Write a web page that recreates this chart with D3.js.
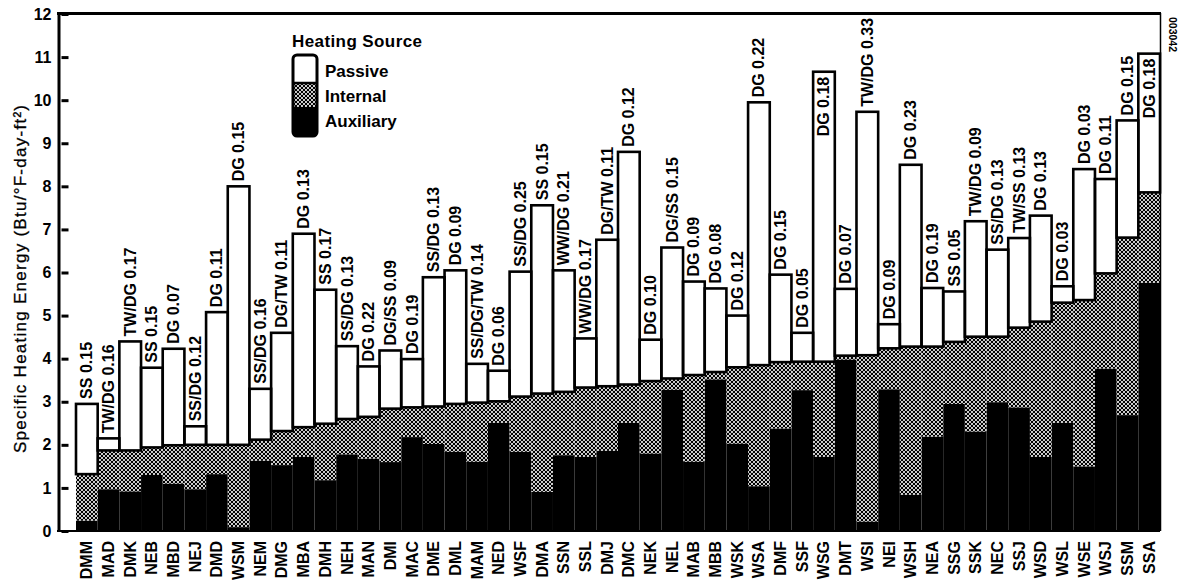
<!DOCTYPE html>
<html>
<head>
<meta charset="utf-8">
<script src="https://cdn.jsdelivr.net/npm/d3@7"></script>
<style>
  body { margin: 0; background: #fff; }
  svg { display: block; font-family: "Liberation Sans", Arial, Helvetica, sans-serif; }
</style>
</head>
<body>
<svg id="chart" width="1178" height="582"></svg>
<script>
// Building codes along the x axis
const buildings = ["DMM","MAD","DMK","NEB","MBD","NEJ","DMD","WSM","NEM","DMG",
  "MBA","DMH","NEH","MAN","DMI","MAC","DME","DML","MAM","NED",
  "WSF","DMA","SSN","SSL","DMJ","DMC","NEK","NEL","MAB","MBB",
  "WSK","WSA","DMF","SSF","WSG","DMT","WSI","NEI","WSH","NEA",
  "SSG","SSK","NEC","SSJ","WSD","WSL","WSE","WSJ","SSM","SSA"];

// Specific heating energy by source (Btu/°F-day-ft²)
const auxiliary = [0.24,0.97,0.92,1.30,1.10,0.97,1.32,0.09,1.63,1.53,
  1.72,1.18,1.78,1.68,1.60,2.18,2.02,1.84,1.61,2.51,
  1.84,0.91,1.76,1.72,1.86,2.51,1.80,3.28,1.61,3.52,
  2.03,1.04,2.38,3.27,1.72,3.98,0.22,3.29,0.84,2.19,
  2.95,2.31,2.99,2.87,1.72,2.51,1.50,3.77,2.69,5.76];
const internal = [1.08,0.90,0.95,0.64,0.89,1.03,0.68,1.91,0.49,0.79,
  0.69,1.31,0.82,0.97,1.24,0.69,0.87,1.11,1.37,0.50,
  1.28,2.28,1.47,1.61,1.50,0.89,1.68,0.26,2.01,0.17,
  1.77,2.81,1.54,0.66,2.21,0.09,3.86,0.95,3.44,2.09,
  1.44,2.20,1.52,1.85,3.14,2.79,3.86,2.21,4.12,2.10];
const passive = [1.63,0.28,2.53,1.85,2.24,0.43,3.08,6.00,1.18,2.28,
  4.49,3.11,1.69,1.17,1.35,1.12,3.00,3.10,0.90,0.71,
  2.90,4.37,2.82,1.14,3.40,5.40,0.96,3.04,2.17,1.94,
  1.20,6.10,2.03,0.67,6.73,1.55,5.65,0.56,4.22,1.36,
  1.17,2.68,2.02,2.08,2.46,0.38,3.04,2.19,2.72,3.22];

// Passive system type and solar aperture ratio written above each bar
const annotations = ["SS 0.15","TW/DG 0.16","TW/DG 0.17","SS 0.15","DG 0.07","SS/DG 0.12","DG 0.11","DG 0.15","SS/DG 0.16","DG/TW 0.11",
  "DG 0.13","SS 0.17","SS/DG 0.13","DG 0.22","DG/SS 0.09","DG 0.19","SS/DG 0.13","DG 0.09","SS/DG/TW 0.14","DG 0.06",
  "SS/DG 0.25","SS 0.15","WW/DG 0.21","WW/DG 0.17","DG/TW 0.11","DG 0.12","DG 0.10","DG/SS 0.15","DG 0.09","DG 0.08",
  "DG 0.12","DG 0.22","DG 0.15","DG 0.05","DG 0.18","DG 0.07","TW/DG 0.33","DG 0.09","DG 0.23","DG 0.19",
  "SS 0.05","TW/DG 0.09","SS/DG 0.13","TW/SS 0.13","DG 0.13","DG 0.03","DG 0.03","DG 0.11","DG 0.15","DG 0.18"];

const yTicks = [0,1,2,3,4,5,6,7,8,9,10,11,12];
const seriesNames = ["Auxiliary","Internal","Passive"];

const svg = d3.select("#chart");
const x = d3.scaleBand().domain(buildings).range([76, 1160]).paddingInner(0).paddingOuter(0);
const y = d3.scaleLinear().domain([0, 12]).range([531, 14]);

// Stippled fill for internal gains
const defs = svg.append("defs");
const pat = defs.append("pattern").attr("id", "dots")
  .attr("width", 4).attr("height", 4).attr("patternUnits", "userSpaceOnUse");
pat.append("rect").attr("width", 4).attr("height", 4).attr("fill", "#000");
[[2,2],[0,0],[4,0],[0,4],[4,4]].forEach(([cx, cy]) =>
  pat.append("circle").attr("cx", cx).attr("cy", cy).attr("r", 1.05).attr("fill", "#fff"));

const fills = { Auxiliary: "#000", Internal: "url(#dots)", Passive: "#fff" };

const rows = buildings.map((b, i) => ({
  building: b, Auxiliary: auxiliary[i], Internal: internal[i], Passive: passive[i]
}));
const stacked = d3.stack().keys(seriesNames)(rows);

// Stacked segments
svg.append("g").selectAll("g").data(stacked).join("g")
  .attr("fill", d => fills[d.key])
  .selectAll("rect").data(d => d).join("rect")
  .attr("x", d => x(d.data.building))
  .attr("width", x.bandwidth())
  .attr("y", d => y(d[1]))
  .attr("height", d => y(d[0]) - y(d[1]));

// Heavy outline round the passive portion of every bar
const tops = stacked[2];
svg.append("g").attr("fill", "none").attr("stroke", "#000").attr("stroke-width", 2.6)
  .selectAll("rect").data(tops).join("rect")
  .attr("x", d => x(d.data.building))
  .attr("width", x.bandwidth())
  .attr("y", d => y(d[1]))
  .attr("height", d => y(d[0]) - y(d[1]));

// Frame: top rule, right edge, baseline
svg.append("line").attr("x1", 57).attr("x2", 1161).attr("y1", 13.5).attr("y2", 13.5)
  .attr("stroke", "#000").attr("stroke-width", 3);
svg.append("line").attr("x1", 1160.5).attr("x2", 1160.5).attr("y1", 13).attr("y2", 531)
  .attr("stroke", "#000").attr("stroke-width", 1.5);
svg.append("line").attr("x1", 57).attr("x2", 1160).attr("y1", y(0)).attr("y2", y(0))
  .attr("stroke", "#000").attr("stroke-width", 2);

// Y axis with inward ticks
const yAxis = svg.append("g").attr("transform", "translate(58.5,0)")
  .call(d3.axisLeft(y).tickValues(yTicks).tickSizeInner(-10).tickSizeOuter(0).tickPadding(7));
yAxis.select(".domain").attr("stroke", "#000").attr("stroke-width", 3);
yAxis.selectAll(".tick line").attr("x1", 3).attr("x2", 10).attr("stroke", "#000").attr("stroke-width", 3);
yAxis.selectAll(".tick text").attr("fill", "#000")
  .style("font-family", "'Liberation Sans', Arial, sans-serif")
  .style("font-size", "16px").style("font-weight", "bold");

svg.append("text")
  .attr("transform", "translate(20,279) rotate(-90)")
  .attr("text-anchor", "middle").attr("dominant-baseline", "central")
  .attr("textLength", 348).attr("lengthAdjust", "spacing")
  .style("font-size", "17px")
  .style("stroke", "#000").style("stroke-width", 0.3)
  .text("Specific Heating Energy (Btu/°F-day-ft²)");

// Building codes
svg.append("g").selectAll("text").data(buildings).join("text")
  .attr("transform", b => `translate(${x(b) + x.bandwidth() / 2},541) rotate(-90)`)
  .attr("text-anchor", "end").attr("dominant-baseline", "central")
  .style("font-size", "16px").style("font-weight", "bold")
  .text(b => b);

// System annotations; placed inside the bar when there is no room above it
const ann = svg.append("g").selectAll("text").data(tops).join("text")
  .attr("dominant-baseline", "central")
  .style("font-size", "16px").style("font-weight", "bold")
  .text((d, i) => annotations[i]);
ann.each(function(d) {
  const len = this.getComputedTextLength();
  const cx = x(d.data.building) + x.bandwidth() / 2;
  const top = y(d[1]);
  const inside = top - 5 - len < 15;
  d3.select(this)
    .attr("text-anchor", inside ? "end" : "start")
    .attr("transform", `translate(${cx},${inside ? top + 5 : top - 5}) rotate(-90)`);
});

// Legend
const lg = svg.append("g");
lg.append("text").attr("x", 292).attr("y", 47)
  .attr("textLength", 130).attr("lengthAdjust", "spacing")
  .style("font-size", "17px").style("font-weight", "bold")
  .text("Heating Source");
const sw = { x: 293, y: 55, w: 24, h: 81 };
defs.append("clipPath").attr("id", "swclip").append("rect")
  .attr("x", sw.x).attr("y", sw.y).attr("width", sw.w).attr("height", sw.h).attr("rx", 4);
const legendItems = seriesNames.slice().reverse();
const segY = { Passive: [55, 83], Internal: [83, 107], Auxiliary: [107, 136] };
const swg = lg.append("g").attr("clip-path", "url(#swclip)");
legendItems.forEach(k => {
  swg.append("rect").attr("x", sw.x).attr("width", sw.w)
    .attr("y", segY[k][0]).attr("height", segY[k][1] - segY[k][0]).attr("fill", fills[k]);
});
lg.append("line").attr("x1", sw.x).attr("x2", sw.x + sw.w).attr("y1", 83).attr("y2", 83)
  .attr("stroke", "#000").attr("stroke-width", 2.5);
lg.append("rect").attr("x", sw.x).attr("y", sw.y).attr("width", sw.w).attr("height", sw.h)
  .attr("rx", 4).attr("fill", "none").attr("stroke", "#000").attr("stroke-width", 3);
const labelY = { Passive: 77, Internal: 102, Auxiliary: 127 };
lg.selectAll("text.item").data(legendItems).join("text").attr("class", "item")
  .attr("x", 325).attr("y", k => labelY[k])
  .style("font-size", "17px").style("font-weight", "bold")
  .text(k => k);

// Figure number
svg.append("text")
  .attr("transform", "translate(1173,17) rotate(90)")
  .attr("dominant-baseline", "central")
  .style("font-size", "10.5px").style("font-weight", "bold")
  .text("003042");
</script>
</body>
</html>
